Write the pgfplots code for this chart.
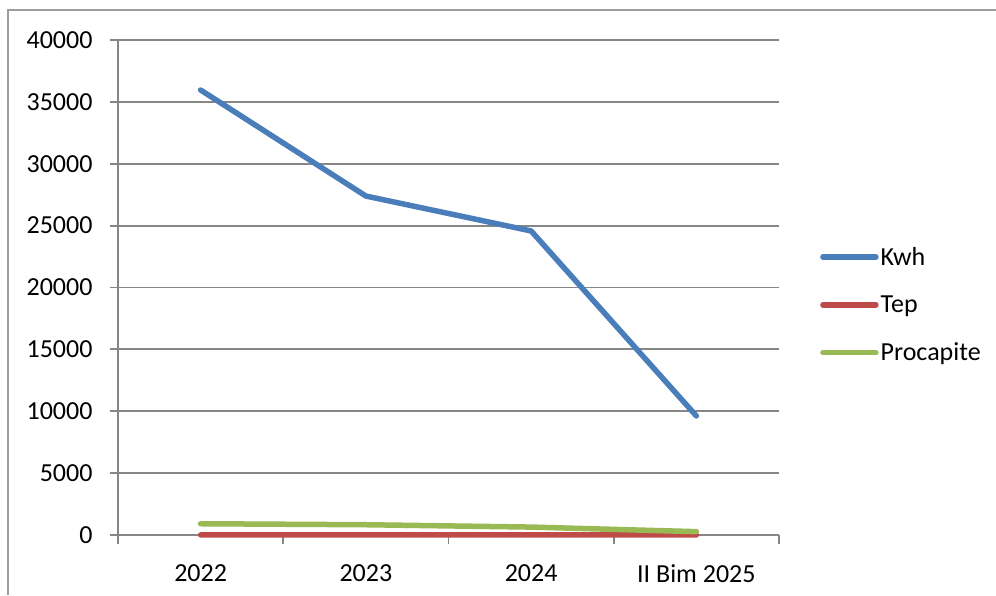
\documentclass[border=0pt]{standalone}
\usepackage{pgfplots}
\pgfplotsset{compat=1.18}
\usepackage{fontspec}
\setmainfont{Carlito}
\definecolor{kwh}{HTML}{4A7EBB}
\definecolor{tep}{HTML}{BE4B48}
\definecolor{proc}{HTML}{98B954}
\definecolor{gridc}{HTML}{868686}
\begin{document}
\begin{tikzpicture}[x=1pt,y=1pt]
\begin{axis}[
  scale only axis, width=661pt, height=495pt,
  xmin=-0.5, xmax=3.5, ymin=0, ymax=40000,
  scaled y ticks=false,
  axis x line*=bottom, axis y line*=left,
  axis line style={gridc, line width=1.8pt},
  xtick={0,1,2,3},
  xticklabels={2022,2023,2024,II Bim 2025},
  minor xtick={-0.5,0.5,1.5,2.5,3.5},
  major x tick style={draw=none},
  minor x tick style={gridc, line width=1.8pt},
  minor tick length=9pt,
  ytick={0,5000,...,40000},
  major y tick style={gridc, line width=1.8pt},
  major tick length=8pt,
  tick align=outside,
  ymajorgrids,
  grid style={gridc, line width=1.8pt},
  /pgf/number format/1000 sep={},
  /pgf/number format/assume math mode=true,
  ticklabel style={font=\fontsize{26}{30}\selectfont, text=black},
  yticklabel style={xshift=-14pt},
  xticklabel style={yshift=-18pt},
  legend style={at={(1.062,0.465)}, anchor=west, draw=none, fill=none,
    font=\fontsize{26}{30}\selectfont, row sep=25pt, inner sep=0pt,
    /tikz/every even column/.append style={column sep=6pt}},
  legend cell align=left,
  legend image code/.code={\draw[#1, line cap=round, line width=5.5pt] (0pt,0pt) -- (53pt,0pt);},
  clip=false,
]
\coordinate (O) at (rel axis cs:0,0);
\addplot[kwh, line width=5.5pt, line cap=round, line join=round] coordinates {(0,35960) (1,27390) (2,24570) (3,9620)};
\addlegendentry{Kwh}
\addplot[tep, line width=5.5pt, line cap=round, line join=round] coordinates {(0,3) (1,2.3) (2,2.1) (3,0.8)};
\addlegendentry{Tep}
\addplot[proc, line width=5.5pt, line cap=round, line join=round] coordinates {(0,910) (1,830) (2,640) (3,270)};
\addlegendentry{Procapite}
\end{axis}
\pgfresetboundingbox
\path[use as bounding box] (O) ++(-118,-60) rectangle ++(996,595);
\draw[gridc!80, line width=1.8pt] (O) ++(-110,-60) -- ++(0,585) -- ++(988,0);
\end{tikzpicture}
\end{document}
